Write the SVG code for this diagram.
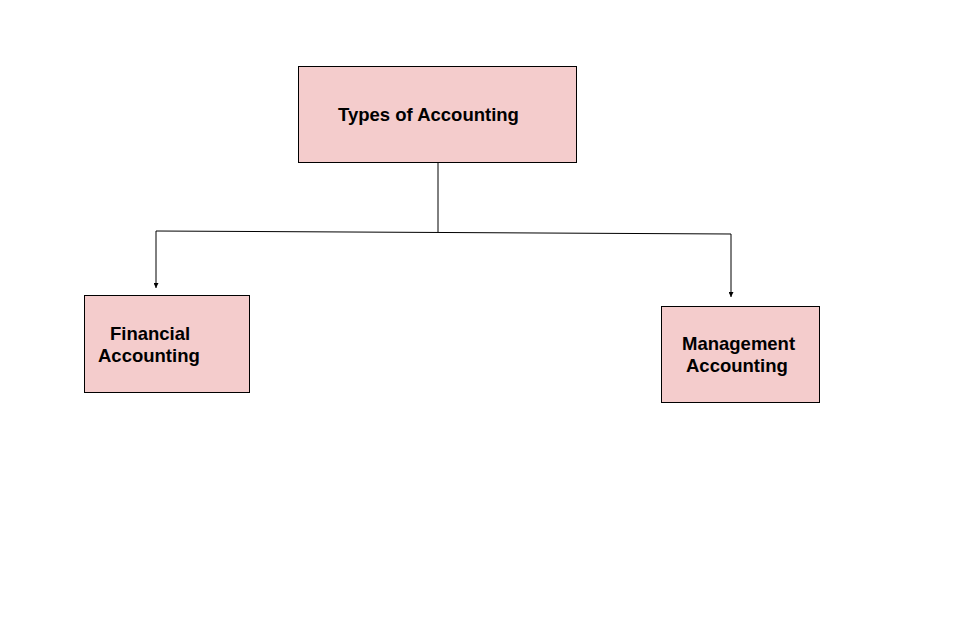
<svg xmlns="http://www.w3.org/2000/svg" width="960" height="640" viewBox="0 0 960 640">
<style>
.box{fill:#f4cccc;stroke:#000;stroke-width:1}
.t{font-family:"Liberation Sans",Arial,sans-serif;font-weight:bold;font-size:18.5px;fill:#000}
.c{fill:none;stroke:#000;stroke-width:1}
</style>
<defs>
<marker id="arr" viewBox="0 0 10 10" refX="10" refY="5" markerWidth="5" markerHeight="5" orient="auto" markerUnits="userSpaceOnUse">
<path d="M0,0 L10,5 L0,10 Z" fill="#000"/>
</marker>
</defs>
<rect width="960" height="640" fill="#fff"/>
<g id="connectors">
<path class="c" d="M438,162 V232"/>
<path class="c" d="M156,231 L731,234"/>
<path class="c" d="M156,231 V288" marker-end="url(#arr)"/>
<path class="c" d="M731,234 V297" marker-end="url(#arr)"/>
</g>
<g id="types">
<rect class="box" x="298.5" y="66.5" width="278" height="96"/>
<text class="t" x="338" y="121">Types of Accounting</text>
</g>
<g id="financial">
<rect class="box" x="84.5" y="295.5" width="165" height="97"/>
<text class="t" x="110" y="340">Financial</text>
<text class="t" x="98" y="362">Accounting</text>
</g>
<g id="management">
<rect class="box" x="661.5" y="306.5" width="158" height="96"/>
<text class="t" x="682" y="350">Management</text>
<text class="t" x="686" y="372">Accounting</text>
</g>
</svg>
